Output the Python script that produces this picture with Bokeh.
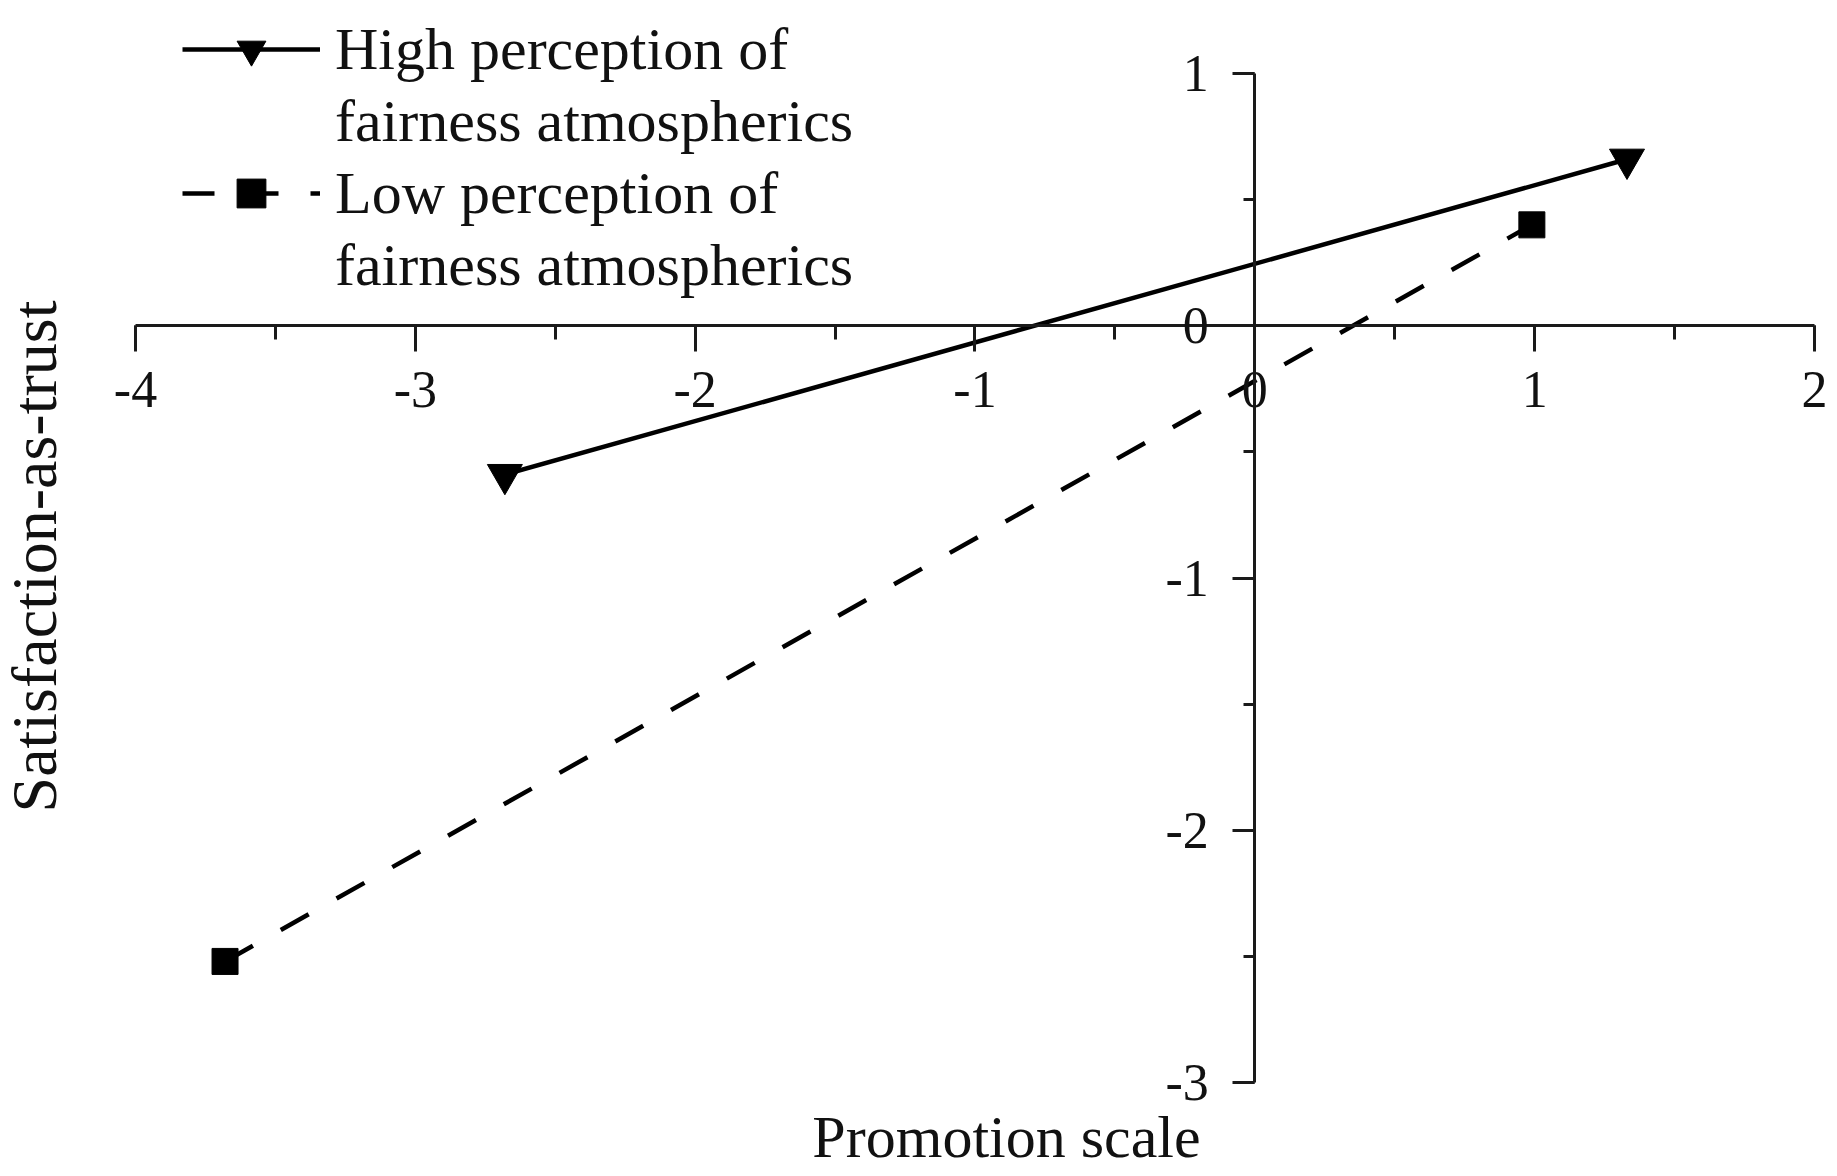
import math
from bokeh.plotting import figure
from bokeh.models import (Range1d, SingleIntervalTicker, Legend, LegendItem, Label)
from bokeh.embed import file_html
from bokeh.resources import INLINE

# ---- data ----
promotion_high = [-2.68, 1.33]
satisfaction_high = [-0.59, 0.66]
promotion_low = [-3.68, 0.99]
satisfaction_low = [-2.52, 0.40]

x_ticks = [-4, -3, -2, -1, 0, 1, 2]
y_ticks = [-3, -2, -1, 0, 1]

label_high = ["High perception of", "fairness atmospherics"]
label_low = ["Low perception of", "fairness atmospherics"]
x_title = "Promotion scale"
y_title = "Satisfaction-as-trust"

FONT = "Liberation Serif"
W, H = 1837, 1176

p = figure(width=W, height=H, output_backend="svg", toolbar_location=None,
           x_range=Range1d(-4.4824, 2.0822), y_range=Range1d(-3.3726, 1.2894),
           min_border=0, outline_line_color=None)
p.xgrid.grid_line_color = None
p.ygrid.grid_line_color = None

for ax, ticks in ((p.xaxis[0], x_ticks), (p.yaxis[0], y_ticks)):
    ax.fixed_location = 0
    ax.bounds = (min(ticks), max(ticks))
    ax.ticker = SingleIntervalTicker(interval=1, num_minor_ticks=2)
    ax.major_label_overrides = {t: str(t) for t in ticks}
    ax.axis_line_width = 3
    ax.axis_line_color = "#1a1a1a"
    ax.major_tick_line_width = 3
    ax.major_tick_line_color = "#1a1a1a"
    ax.minor_tick_line_width = 3
    ax.minor_tick_line_color = "#1a1a1a"
    ax.major_tick_in = 0
    ax.minor_tick_in = 0
    ax.major_label_text_font = FONT
    ax.major_label_text_font_size = "52px"
    ax.major_label_text_color = "#111111"

p.xaxis.major_tick_out = 26
p.xaxis.minor_tick_out = 14
p.xaxis.major_label_standoff = 20
p.yaxis.major_tick_out = 22
p.yaxis.minor_tick_out = 11
p.yaxis.major_label_standoff = 24

hl = p.line(promotion_high, satisfaction_high, line_color="black", line_width=4.5)
hm = p.scatter(promotion_high, satisfaction_high, marker="inverted_triangle",
               size=35, fill_color="black", line_color="black")
ll = p.line(promotion_low, satisfaction_low, line_color="black", line_width=4.5,
            line_dash="32 32")
lm = p.scatter(promotion_low, satisfaction_low, marker="square",
               size=26, fill_color="black", line_color="black")

legend = Legend(items=[
    LegendItem(label=label_high[0], renderers=[hl, hm]),
    LegendItem(label=label_high[1], renderers=[]),
    LegendItem(label=label_low[0], renderers=[ll, lm]),
    LegendItem(label=label_low[1], renderers=[]),
], location=(182, 875), padding=0, margin=0, spacing=0,
    glyph_width=138, glyph_height=72, label_height=72, label_standoff=15,
    label_text_font=FONT, label_text_font_size="60px", label_text_color="#111111",
    background_fill_alpha=0, border_line_alpha=0)
p.add_layout(legend, "center")

p.add_layout(Label(x=1006, y=40, x_units="screen", y_units="screen", text=x_title,
                   text_font=FONT, text_font_size="60px", text_align="center",
                   text_baseline="alphabetic", text_color="#111111"))
p.add_layout(Label(x=34, y=H - 556, x_units="screen", y_units="screen", text=y_title,
                   angle=math.pi / 2, text_font=FONT, text_font_size="64px",
                   text_align="center", text_baseline="middle", text_color="#111111"))

open("out.html", "w").write(file_html(p, INLINE))
